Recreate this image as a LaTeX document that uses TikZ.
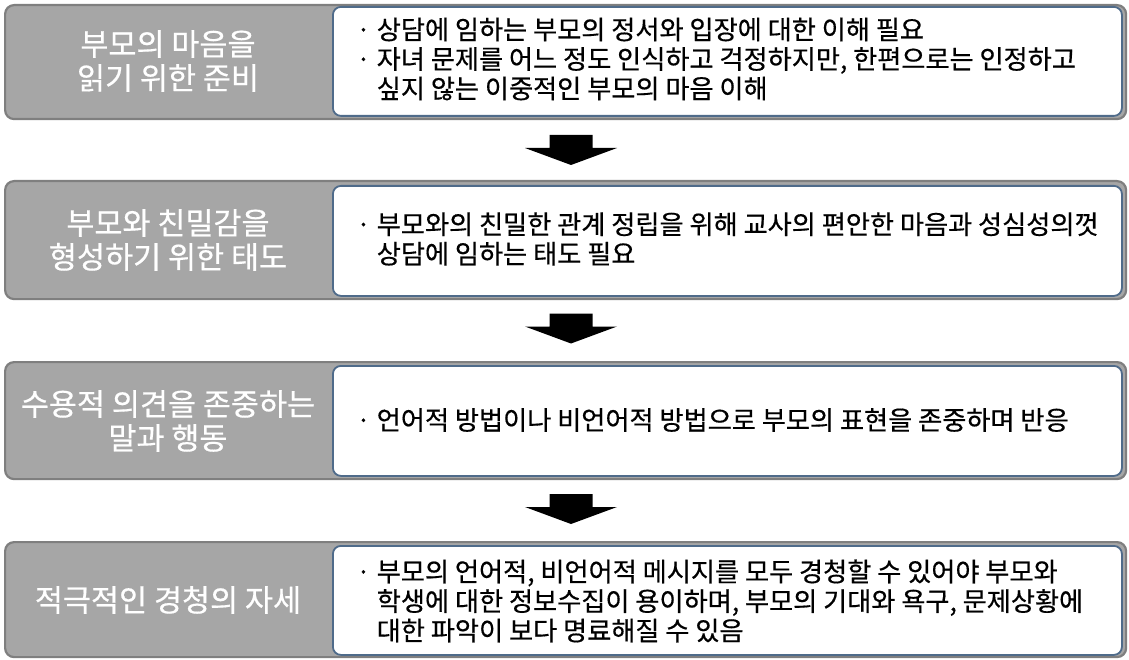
\documentclass[tikz,border=0pt]{standalone}
\usepackage{fontspec}
\setmainfont{Noto Sans CJK KR}[FakeBold=0.5]
\definecolor{boxgray}{HTML}{A6A6A6}
\definecolor{boxedge}{HTML}{7F7F7F}
\definecolor{inedge}{HTML}{4F6B8A}
\newcommand{\blockarrowat}[1]{\fill[arrowfill,shift={(#1)}] (-21.5,-15) -- (21.5,-15) -- (21.5,-2) -- (46,-2) -- (0,15) -- (-46,-2) -- (-21.5,-2) -- cycle;}
\newcommand{\ind}{\phantom{·\ }}
\begin{document}
\begin{tikzpicture}[x=1pt,y=-1pt,
  outerbox/.style={draw=boxedge, fill=boxgray, line width=2.2pt, rounded corners=9pt, anchor=north west, minimum width=1121pt, inner sep=0pt},
  innerbox/.style={draw=inedge, fill=white, line width=1.8pt, rounded corners=8pt, anchor=north west, minimum width=789pt, inner sep=0pt},
  lefttext/.style={text=white, font=\fontsize{30.5}{34}\selectfont, align=center, inner sep=0pt},
  righttext/.style={text=black, font=\fontsize{26.2}{29.5}\selectfont, align=left, anchor=west, inner sep=0pt},
  arrowfill/.style={fill=black}]
\useasboundingbox (0,0) rectangle (1129,660);
% boxes
\node[outerbox, minimum height=114pt] (o1) at (4,4) {};
\node[outerbox, minimum height=118pt] (o2) at (4,180) {};
\node[outerbox, minimum height=117pt] (o3) at (4,361) {};
\node[outerbox, minimum height=115pt] (o4) at (4,541) {};
\node[innerbox, minimum height=109pt] (i1) at (332,6) {};
\node[innerbox, minimum height=110pt] (i2) at (332,185) {};
\node[innerbox, minimum height=110pt] (i3) at (332,365) {};
\node[innerbox, minimum height=109pt] (i4) at (332,545) {};
% left titles
\node[lefttext] (t1) at (168,61) {부모의 마음을\\읽기 위한 준비};
\node[lefttext] (t2) at (168,240) {부모와 친밀감을\\형성하기 위한 태도};
\node[lefttext] (t3) at (168,421) {수용적 의견을 존중하는\\말과 행동};
\node[lefttext] (t4) at (168,600) {적극적인 경청의 자세};
% right descriptions
\node[righttext] (d1) at (356,59) {· 상담에 임하는 부모의 정서와 입장에 대한 이해 필요\\· 자녀 문제를 어느 정도 인식하고 걱정하지만, 한편으로는 인정하고\\\ind 싶지 않는 이중적인 부모의 마음 이해};
\node[righttext] (d2) at (356,239) {· 부모와의 친밀한 관계 정립을 위해 교사의 편안한 마음과 성심성의껏\\\ind 상담에 임하는 태도 필요};
\node[righttext] (d3) at (356,420) {· 언어적 방법이나 비언어적 방법으로 부모의 표현을 존중하며 반응};
\node[righttext] (d4) at (356,601) {· 부모의 언어적, 비언어적 메시지를 모두 경청할 수 있어야 부모와\\\ind 학생에 대한 정보수집이 용이하며, 부모의 기대와 욕구, 문제상황에\\\ind 대한 파악이 보다 명료해질 수 있음};
% arrows
\coordinate (a1) at (571,150);
\coordinate (a2) at (571,328.5);
\coordinate (a3) at (571,509);
\blockarrowat{a1}
\blockarrowat{a2}
\blockarrowat{a3}
\end{tikzpicture}
\end{document}
